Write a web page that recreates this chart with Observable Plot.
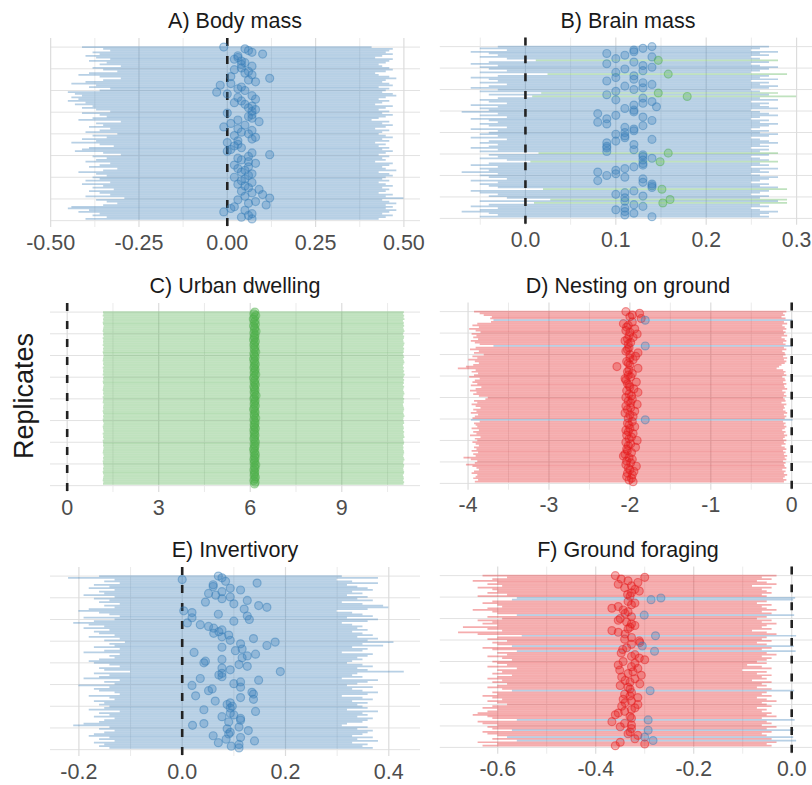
<!DOCTYPE html>
<html><head><meta charset="utf-8">
<script src="https://cdn.jsdelivr.net/npm/d3@7"></script>
<script src="https://cdn.jsdelivr.net/npm/@observablehq/plot@0.6"></script>
<style>
html,body{margin:0;padding:0;background:#fff;}
body{width:812px;height:785px;overflow:hidden;position:relative;font-family:"Liberation Sans",Arial,sans-serif;}
.panel{position:absolute;}
.title{position:absolute;width:400px;font-size:21.5px;color:#1a1a1a;text-align:center;white-space:nowrap;line-height:24px;height:24px;}
.ylab{position:absolute;width:200px;height:30px;line-height:30px;text-align:center;font-size:27px;color:#1a1a1a;transform:rotate(-90deg);white-space:nowrap;}
</style></head><body>
<script>
// ---------- DATA (rows top to bottom) ----------
const titles = ["A) Body mass","B) Brain mass","C) Urban dwelling","D) Nesting on ground","E) Invertivory","F) Ground foraging"];

const estA = [-.01,.05,.06,.07,.10,.03,.03,.02,.04,.05,
.04,.07,.04,.02,.06,.05,.07,.01,.12,.06,
.08,.01,-.02,.04,.03,.05,-.03,.00,.07,.03,
.08,.04,.02,.05,.07,.06,.08,.07,.00,.07,
.06,.07,.03,.09,.01,.05,-.01,.03,.07,.04,
.06,.02,.08,.07,.03,.00,.03,.02,.04,.01,
.00,.07,.12,.06,.03,.04,.06,.08,.02,.06,
.03,.05,.04,.07,.06,.02,.05,.04,.07,.03,
.05,.06,.09,.04,.07,.10,.05,.12,.03,.08,
.06,.11,.02,.01,.05,-.01,.07,.06,.04,.07];
const loA = [-.41,-.35,-.33,-.38,-.36,-.40,-.37,-.33,-.39,-.34,
-.36,-.30,-.38,-.35,-.31,-.39,-.42,-.36,-.30,-.35,
-.40,-.44,-.37,-.39,-.33,-.36,-.45,-.43,-.41,-.44,
-.42,-.45,-.40,-.43,-.38,-.41,-.37,-.33,-.41,-.36,
-.34,-.38,-.42,-.30,-.37,-.35,-.39,-.33,-.36,-.40,
-.31,-.38,-.34,-.41,-.37,-.44,-.36,-.32,-.39,-.41,
-.43,-.35,-.30,-.38,-.34,-.37,-.40,-.33,-.36,-.39,
-.31,-.35,-.42,-.37,-.34,-.38,-.36,-.40,-.33,-.41,
-.35,-.38,-.32,-.39,-.36,-.33,-.40,-.29,-.37,-.34,
-.31,-.35,-.44,-.45,-.39,-.42,-.36,-.38,-.34,-.40];
const hiA = [.41,.47,.46,.45,.47,.44,.42,.47,.46,.45,
.43,.44,.46,.47,.45,.42,.43,.46,.48,.45,
.44,.46,.47,.43,.46,.45,.44,.47,.48,.45,
.43,.46,.44,.42,.47,.45,.43,.46,.44,.47,
.45,.43,.41,.46,.44,.47,.45,.42,.46,.44,
.43,.45,.47,.44,.46,.42,.45,.43,.46,.44,
.47,.45,.43,.46,.44,.45,.42,.47,.46,.44,
.45,.48,.43,.46,.47,.45,.44,.46,.43,.45,
.47,.44,.46,.45,.43,.47,.45,.50,.44,.46,
.48,.45,.47,.45,.48,.46,.44,.47,.45,.43];

const estB = [.14,.13,.12,.12,.09,.11,.14,.10,.147,.12,
.09,.13,.14,.11,.13,.10,.158,.12,.10,.12,
.09,.13,.14,.11,.13,.12,.10,.147,.09,.179,
.13,.10,.14,.13,.12,.145,.11,.12,.12,.08,
.10,.13,.09,.14,.08,.09,.13,.11,.12,.12,
.11,.10,.11,.11,.14,.10,.09,.12,.09,.09,
.12,.09,.158,.13,.13,.14,.13,.149,.13,.13,
.12,.11,.10,.08,.10,.09,.11,.13,.08,.13,
.14,.14,.14,.151,.12,.11,.10,.13,.11,.160,
.11,.152,.12,.13,.11,.10,.11,.12,.11,.14];
const loB = [-.03,-.05,-.02,-.06,-.04,-.03,-.05,-.02,.012,-.04,
-.06,-.03,-.05,-.04,-.02,-.05,.025,-.03,-.06,-.04,
-.03,-.05,-.02,-.04,-.06,-.03,-.05,.018,-.04,.008,
-.03,-.05,-.04,-.02,-.06,-.03,-.05,-.04,-.07,-.03,
-.05,-.02,-.06,-.04,-.03,-.05,-.04,-.02,-.06,-.03,
-.04,-.05,-.03,-.06,-.02,-.04,-.05,-.03,-.04,-.06,
-.03,-.05,.015,-.04,-.03,-.05,-.02,.006,-.04,-.06,
-.03,-.05,-.04,-.07,-.03,-.05,-.04,-.02,-.06,-.03,
-.05,-.04,-.03,.02,-.06,-.05,-.03,-.04,-.02,.028,
-.05,.01,-.04,-.06,-.03,-.05,-.07,-.04,-.03,-.05];
const hiB = [.27,.26,.25,.28,.26,.27,.25,.26,.28,.27,
.25,.26,.28,.27,.26,.25,.29,.27,.26,.28,
.25,.27,.26,.28,.27,.25,.26,.28,.27,.30,
.26,.28,.25,.27,.26,.27,.28,.25,.26,.27,
.28,.26,.25,.27,.26,.28,.27,.26,.25,.27,
.26,.28,.27,.25,.26,.27,.28,.26,.27,.25,
.27,.26,.28,.27,.25,.26,.27,.28,.26,.27,
.25,.28,.26,.27,.25,.26,.28,.27,.26,.25,
.27,.26,.28,.29,.27,.26,.25,.27,.26,.29,
.28,.29,.26,.27,.25,.26,.28,.27,.26,.27];

const estC = [6.15,6.12,6.18,6.14,6.10,6.16,6.13,6.17,6.11,6.15,
6.14,6.19,6.12,6.16,6.13,6.15,6.11,6.17,6.14,6.12,
6.16,6.13,6.15,6.18,6.12,6.14,6.16,6.11,6.15,6.13,
6.17,6.14,6.12,6.16,6.15,6.13,6.18,6.14,6.11,6.16,
6.13,6.15,6.17,6.12,6.14,6.16,6.13,6.15,6.19,6.14,
6.12,6.16,6.15,6.13,6.17,6.14,6.11,6.15,6.16,6.13,
6.14,6.18,6.12,6.15,6.16,6.13,6.14,6.17,6.12,6.15,
6.13,6.16,6.14,6.12,6.15,6.17,6.13,6.16,6.14,6.11,
6.15,6.13,6.17,6.14,6.16,6.12,6.15,6.13,6.18,6.14,
6.16,6.12,6.15,6.14,6.13,6.17,6.15,6.12,6.16,6.14];
const loC = [1.19,1.20,1.18,1.21,1.19,1.20,1.18,1.19,1.21,1.20,
1.19,1.18,1.20,1.19,1.21,1.18,1.20,1.19,1.20,1.18,
1.21,1.19,1.20,1.18,1.19,1.21,1.20,1.19,1.18,1.20,
1.19,1.21,1.18,1.20,1.19,1.20,1.18,1.21,1.19,1.20,
1.18,1.19,1.21,1.20,1.19,1.18,1.20,1.19,1.21,1.18,
1.20,1.19,1.18,1.21,1.20,1.19,1.20,1.18,1.19,1.21,
1.19,1.20,1.18,1.19,1.21,1.20,1.18,1.19,1.20,1.21,
1.18,1.20,1.19,1.21,1.18,1.19,1.20,1.19,1.21,1.20,
1.19,1.18,1.20,1.21,1.19,1.20,1.18,1.19,1.20,1.21,
1.19,1.20,1.18,1.19,1.21,1.20,1.19,1.18,1.20,1.19];
const hiC = [11.05,11.03,11.06,11.04,11.07,11.02,11.05,11.04,11.06,11.03,
11.05,11.07,11.04,11.02,11.06,11.05,11.03,11.04,11.07,11.05,
11.03,11.06,11.04,11.05,11.02,11.04,11.06,11.03,11.05,11.07,
11.04,11.02,11.05,11.03,11.06,11.04,11.08,11.05,11.03,11.06,
11.04,11.05,11.02,11.06,11.04,11.03,11.05,11.07,11.04,11.03,
11.06,11.04,11.05,11.02,11.03,11.05,11.06,11.04,11.03,11.05,
11.07,11.04,11.03,11.05,11.06,11.02,11.04,11.05,11.03,11.06,
11.04,11.05,11.07,11.03,11.04,11.06,11.05,11.02,11.04,11.03,
11.05,11.06,11.04,11.03,11.05,11.07,11.04,11.03,11.06,11.05,
11.03,11.04,11.06,11.05,11.02,11.04,11.05,11.03,11.06,11.04];

const estD = [-2.05,-1.88,-1.97,-2.00,-1.86,-1.81,-1.97,-2.08,-2.02,-2.04,
-1.94,-2.05,-2.00,-1.91,-2.01,-1.96,-2.03,-2.06,-1.99,-2.02,
-1.81,-2.01,-2.03,-2.05,-1.90,-2.00,-1.93,-2.00,-1.96,-2.04,
-2.02,-2.00,-2.16,-1.90,-2.01,-2.03,-1.97,-2.02,-1.99,-2.06,
-2.05,-1.92,-2.03,-2.01,-2.00,-1.95,-2.04,-1.90,-2.01,-1.98,
-2.05,-1.97,-2.02,-1.99,-1.91,-2.05,-1.99,-2.03,-1.94,-2.06,
-2.00,-1.96,-2.02,-1.81,-1.97,-2.03,-2.01,-1.94,-2.00,-2.05,
-2.02,-1.96,-2.04,-1.98,-2.01,-1.91,-2.05,-1.99,-2.02,-1.93,
-2.04,-2.03,-1.98,-2.06,-2.08,-2.01,-1.97,-2.04,-1.99,-2.05,
-1.92,-2.02,-2.00,-1.95,-2.03,-1.97,-2.04,-1.98,-2.01,-1.96];
const loD = [-3.92,-3.85,-3.80,-3.70,-3.72,-3.68,-3.71,-3.88,-3.94,-3.86,
-3.98,-3.90,-3.84,-3.95,-3.89,-3.93,-3.87,-3.96,-3.91,-3.85,
-3.68,-3.90,-3.97,-3.86,-3.92,-3.80,-3.94,-3.88,-3.99,-3.91,
-3.86,-3.93,-4.02,-4.12,-3.90,-3.95,-3.87,-3.92,-3.98,-3.85,
-3.91,-3.94,-3.88,-3.96,-3.83,-3.90,-3.97,-3.89,-3.93,-3.86,
-3.75,-3.78,-3.92,-3.88,-3.95,-3.90,-3.84,-3.93,-3.89,-3.96,
-3.87,-3.91,-3.94,-3.96,-3.85,-3.92,-3.90,-3.88,-3.95,-3.86,
-3.93,-3.89,-3.97,-3.84,-3.91,-3.88,-3.94,-3.90,-3.86,-3.92,
-3.89,-3.95,-3.87,-3.93,-3.90,-4.05,-3.96,-3.88,-3.91,-4.02,
-3.94,-3.89,-3.86,-3.92,-3.95,-3.88,-3.90,-3.93,-3.87,-3.91];
const hiD = [-.06,-.10,-.08,-.12,-.07,.015,-.09,-.05,-.11,-.08,
-.06,-.10,-.07,-.09,-.05,-.12,-.08,-.06,-.10,-.07,
.012,-.09,-.06,-.11,-.08,-.07,-.10,-.05,-.09,-.06,
-.08,-.12,-.15,-.18,-.10,-.07,-.09,-.06,-.11,-.08,
-.07,-.10,-.06,-.09,-.08,-.05,-.11,-.07,-.09,-.06,
-.10,-.08,-.07,-.12,-.06,-.09,-.08,-.10,-.07,-.05,
-.09,-.06,-.08,.018,-.10,-.07,-.09,-.06,-.08,-.11,
-.07,-.09,-.05,-.08,-.10,-.06,-.09,-.07,-.12,-.08,
-.06,-.10,-.07,-.09,-.05,-.08,-.06,-.10,-.07,-.09,
-.08,-.06,-.11,-.07,-.09,-.05,-.08,-.10,-.06,-.09];

const estE = [.070,.077,.000,.084,.145,.060,.060,.093,.113,.077,
.051,.065,.093,.077,.126,.045,.100,.148,.164,.120,
.003,.019,.070,.126,.019,.130,.100,.010,.035,.051,
.061,.077,.071,.061,.090,.077,.138,.093,.180,.113,
.164,.077,.116,.103,.023,.142,.126,.116,.077,.045,
.042,.110,.126,.077,.093,.190,.077,.071,.077,.035,
.148,.113,.100,.019,.113,.058,.051,.135,.138,.026,
.113,.138,.064,.093,.087,.097,.093,.042,.142,.093,
.100,.077,.113,.113,.090,.042,.020,.110,.087,.128,
.093,.090,.060,.113,.085,.140,.070,.110,.095,.110];
const loE = [-.16,-.22,-.13,-.15,-.12,-.17,-.14,-.18,-.13,-.16,
-.15,-.19,-.13,-.17,-.14,-.16,-.12,-.15,-.13,-.18,
-.20,-.16,-.14,-.12,-.19,-.13,-.17,-.21,-.18,-.15,
-.19,-.14,-.17,-.16,-.13,-.18,-.12,-.15,-.11,-.14,
-.13,-.17,-.12,-.15,-.19,-.12,-.14,-.13,-.16,-.18,
-.17,-.14,-.12,-.16,-.15,-.10,-.17,-.14,-.16,-.19,
-.12,-.15,-.13,-.20,-.14,-.17,-.16,-.13,-.12,-.18,
-.14,-.13,-.17,-.15,-.16,-.14,-.15,-.18,-.12,-.16,
-.14,-.17,-.13,-.15,-.16,-.19,-.21,-.14,-.16,-.13,
-.15,-.17,-.18,-.14,-.16,-.13,-.17,-.15,-.16,-.14];
const hiE = [.31,.38,.30,.33,.38,.32,.34,.36,.37,.33,
.35,.32,.36,.34,.37,.31,.35,.39,.40,.36,
.30,.33,.35,.37,.32,.38,.36,.31,.33,.35,
.34,.36,.33,.35,.37,.34,.38,.36,.41,.35,
.39,.33,.36,.35,.31,.37,.36,.34,.35,.33,
.32,.35,.37,.34,.36,.43,.34,.33,.35,.31,
.38,.36,.34,.32,.37,.33,.35,.38,.36,.31,
.35,.37,.33,.36,.34,.35,.36,.32,.38,.35,
.36,.34,.37,.36,.35,.32,.31,.36,.34,.37,
.36,.35,.33,.37,.34,.38,.33,.36,.35,.37];

const estF = [-.360,-.300,-.348,-.334,-.314,-.354,-.327,-.341,-.320,-.311,
-.327,-.335,-.330,-.267,-.287,-.334,-.320,-.327,-.354,-.367,
-.344,-.334,-.340,-.301,-.327,-.350,-.354,-.337,-.327,-.320,
-.330,-.334,-.367,-.354,-.340,-.278,-.327,-.341,-.311,-.310,
-.327,-.305,-.337,-.345,-.280,-.348,-.320,-.327,-.311,-.300,
-.344,-.320,-.354,-.327,-.314,-.351,-.324,-.334,-.307,-.347,
-.320,-.340,-.330,-.310,-.350,-.334,-.330,-.289,-.327,-.341,
-.330,-.314,-.344,-.327,-.340,-.314,-.347,-.320,-.327,-.341,
-.354,-.360,-.330,-.327,-.293,-.367,-.341,-.327,-.350,-.327,
-.293,-.330,-.334,-.314,-.300,-.320,-.283,-.350,-.300,-.360];
const loF = [-.63,-.58,-.61,-.65,-.60,-.62,-.59,-.64,-.61,-.60,
-.62,-.58,-.64,-.56,-.57,-.61,-.63,-.60,-.59,-.62,
-.65,-.61,-.60,-.56,-.62,-.59,-.64,-.61,-.63,-.60,
-.67,-.62,-.59,-.68,-.64,-.55,-.60,-.62,-.58,-.61,
-.60,-.57,-.63,-.61,-.56,-.60,-.58,-.62,-.59,-.57,
-.61,-.60,-.58,-.62,-.56,-.60,-.59,-.61,-.57,-.60,
-.62,-.59,-.61,-.58,-.60,-.62,-.59,-.57,-.61,-.60,
-.63,-.61,-.59,-.62,-.60,-.58,-.61,-.63,-.60,-.62,
-.64,-.65,-.62,-.61,-.56,-.64,-.63,-.60,-.62,-.61,
-.57,-.63,-.62,-.60,-.58,-.61,-.56,-.64,-.60,-.63];
const hiF = [-.03,-.06,-.04,-.07,-.05,-.03,-.08,-.04,-.06,-.05,
-.04,-.06,-.05,.008,.004,-.05,-.07,-.04,-.06,-.05,
-.03,-.06,-.04,.006,-.05,-.07,-.04,-.06,-.03,-.05,
-.06,-.04,-.08,-.05,-.03,.01,-.05,-.06,-.04,-.07,
-.05,.005,-.04,-.06,.009,-.05,-.03,-.06,-.04,-.05,
-.07,-.05,-.09,-.06,-.04,-.10,-.05,-.07,-.04,-.06,
-.05,-.08,-.04,-.06,-.05,-.07,-.04,.006,-.05,-.06,
-.04,-.07,-.05,-.03,-.06,-.05,-.04,-.07,-.05,-.06,
-.04,-.05,-.03,-.06,.007,-.05,-.04,-.06,-.03,-.05,
.005,-.04,-.06,-.05,.004,-.04,.01,-.03,-.05,-.04];

// axis ticks (labelled) and minor grid positions
const ticksA = [-0.5,-0.25,0,0.25,0.5],  minorA = [-0.375,-0.125,0.125,0.375];
const ticksB = [0,0.1,0.2,0.3],          minorB = [-0.05,0.05,0.15,0.25];
const ticksC = [0,3,6,9],                minorC = [1.5,4.5,7.5,10.5];
const ticksD = [-4,-3,-2,-1,0],          minorD = [-3.5,-2.5,-1.5,-0.5];
const ticksE = [-0.2,0,0.2,0.4],         minorE = [-0.1,0.1,0.3];
const ticksF = [-0.6,-0.4,-0.2,0],       minorF = [-0.5,-0.3,-0.1];
const replicateGrid = [0,12.5,25,37.5,50,62.5,75,87.5,100];
const yLabel = "Replicates";

// ---------- drawing ----------
const RED = "#E41A1C", BLUE = "#377EB8", GREEN = "#4DAF4A";
const cols = [{left:0, width:420, ml:50, mr:0}, {left:420, width:396, ml:20, mr:0}];
const frameTops = [38, 303, 567];
const titleY = [21, 286, 550];

const panels = [
  {est:estA, lo:loA, hi:hiA, domain:[-0.5005,0.547], ticks:ticksA, minor:minorA, fmt:d=>d.toFixed(2)},
  {est:estB, lo:loB, hi:hiB, domain:[-0.0942,0.3176], ticks:ticksB, minor:minorB, fmt:d=>d.toFixed(1)},
  {est:estC, lo:loC, hi:hiC, domain:[-0.547,11.58], ticks:ticksC, minor:minorC, fmt:d=>String(d)},
  {est:estD, lo:loD, hi:hiD, domain:[-4.343,0.2568], ticks:ticksD, minor:minorD, fmt:d=>String(d)},
  {est:estE, lo:loE, hi:hiE, domain:[-0.255,0.4614], ticks:ticksE, minor:minorE, fmt:d=>d.toFixed(1)},
  {est:estF, lo:loF, hi:hiF, domain:[-0.7172,0.0424], ticks:ticksF, minor:minorF, fmt:d=>d.toFixed(1)}
];

panels.forEach((p, k) => {
  const col = k % 2, row = Math.floor(k / 2);
  const g = cols[col];
  const n = Math.min(p.est.length, p.lo.length, p.hi.length);
  const rows = d3.range(n).map(i => ({
    rep: 100 - i, est: p.est[i], lo: p.lo[i], hi: p.hi[i],
    cat: p.lo[i] > 0 ? "pos" : (p.hi[i] < 0 ? "neg" : "ns")
  }));
  const chart = Plot.plot({
    width: g.width, height: 262,
    marginLeft: g.ml, marginRight: g.mr, marginTop: 38, marginBottom: 35,
    x: {domain: p.domain},
    y: {domain: [-3.95, 104.95], axis: null},
    color: {domain: ["neg","ns","pos"], range: [RED, BLUE, GREEN]},
    style: {background: "transparent", fontFamily: "'Liberation Sans', Arial, sans-serif", fontSize: "21.5px", color: "#4d4d4d", overflow: "visible"},
    marks: [
      Plot.ruleY(replicateGrid, {stroke: "#e2e2e2", strokeWidth: 1}),
      Plot.ruleX(p.minor, {stroke: "#e6e6e6", strokeWidth: 0.8}),
      Plot.ruleX(p.ticks, {stroke: "#dcdcdc", strokeWidth: 1.2}),
      Plot.ruleY(rows, {y: "rep", x1: "lo", x2: "hi", stroke: "cat", strokeWidth: 1.75, strokeOpacity: 0.36}),
      Plot.ruleX([0], {stroke: "#222", strokeWidth: 2.6, strokeDasharray: "8,10"}),
      Plot.dot(rows, {x: "est", y: "rep", r: 4, fill: "cat", fillOpacity: 0.3, stroke: "cat", strokeOpacity: 0.45, strokeWidth: 1.2}),
      Plot.axisX(p.ticks, {tickSize: 0, tickPadding: 7, tickFormat: p.fmt, label: null})
    ]
  });
  const holder = document.createElement("div");
  holder.className = "panel";
  holder.style.left = g.left + "px";
  holder.style.top = (frameTops[row] - 38) + "px";
  holder.appendChild(chart);
  document.body.appendChild(holder);

  const t = document.createElement("div");
  t.className = "title";
  t.textContent = titles[k];
  const cx = g.left + g.ml + (g.width - g.ml - g.mr) / 2;
  t.style.left = (cx - 200) + "px";
  t.style.top = (titleY[row] - 12) + "px";
  document.body.appendChild(t);
});

const yl = document.createElement("div");
yl.className = "ylab";
yl.textContent = yLabel;
yl.style.left = (24 - 100) + "px";
yl.style.top = (396 - 15) + "px";
document.body.appendChild(yl);
</script>
</body></html>
